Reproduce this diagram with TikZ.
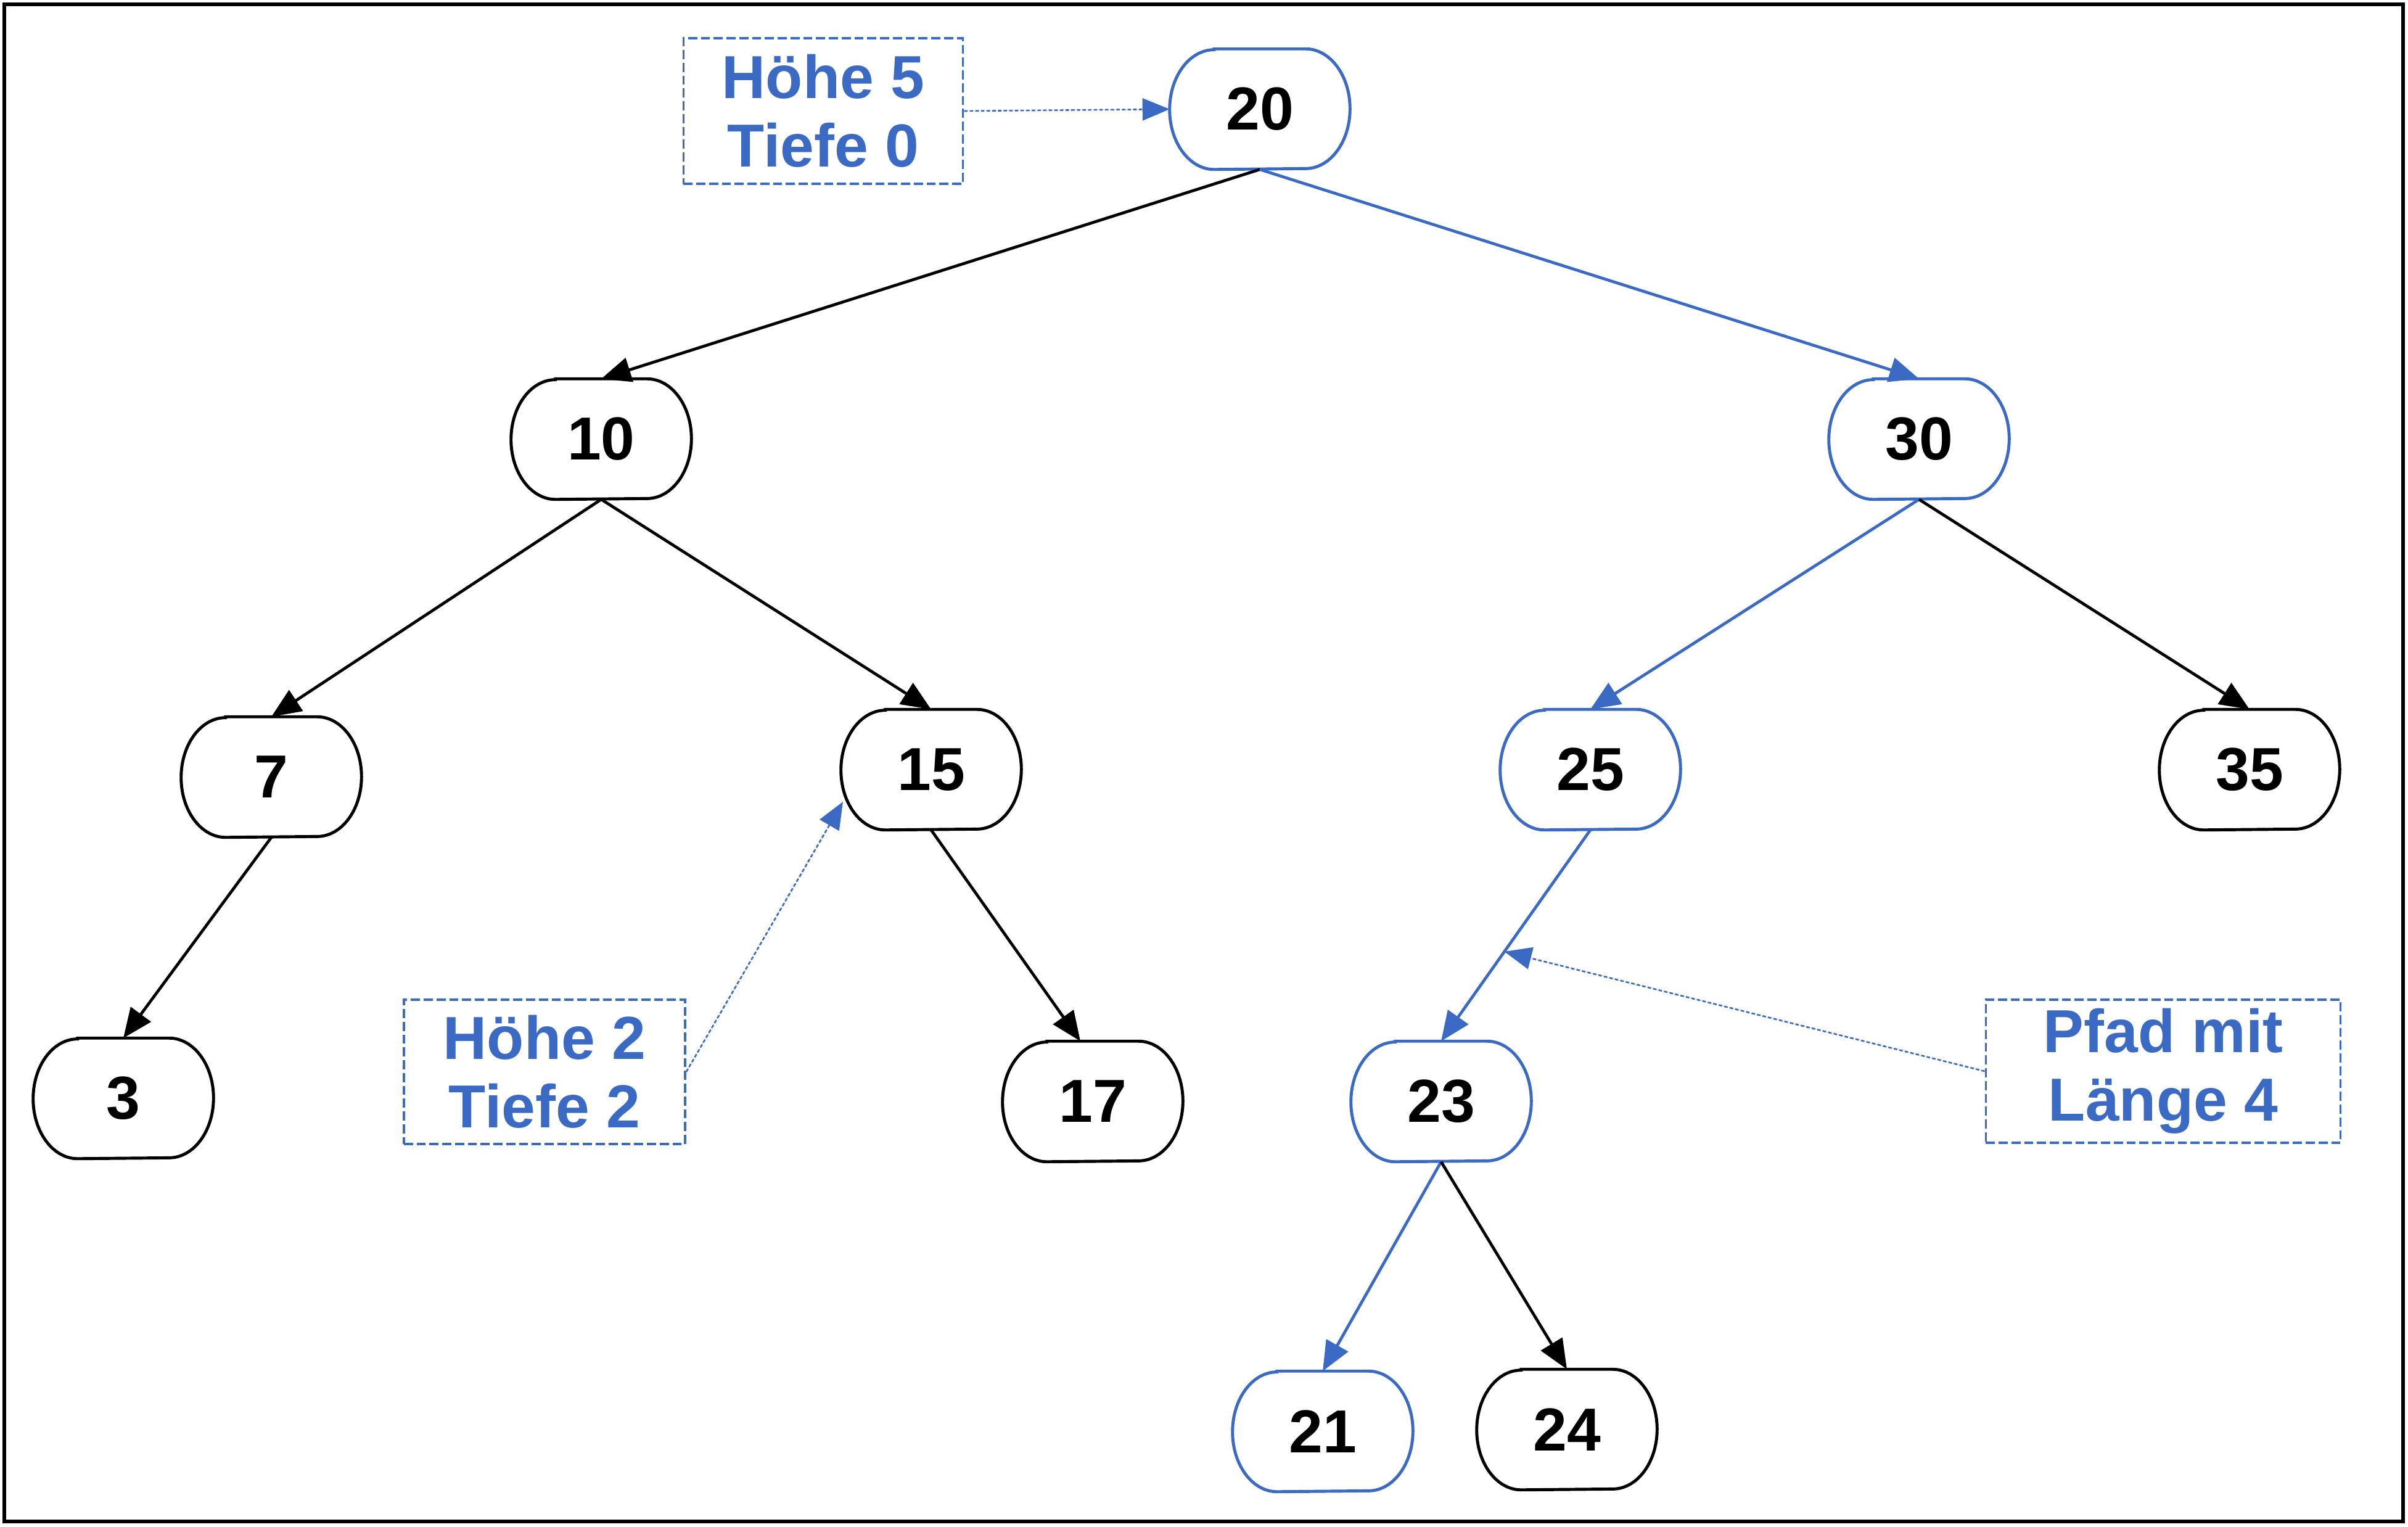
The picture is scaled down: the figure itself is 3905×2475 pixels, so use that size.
\documentclass[tikz,border=0pt]{standalone}
\usepackage{fontspec}
\setmainfont{Liberation Sans}
\usetikzlibrary{arrows.meta,calc}

\definecolor{pathblue}{RGB}{58,106,196}

% outline of a tree node: flat top and bottom, half-elliptic sides
\newcommand{\pilloutline}[2]{%
  \draw[line width=1.4pt, #1]
    ([xshift=0.72cm]#2.north west) -- ([xshift=-0.72cm]#2.north east)
    arc[start angle=90, end angle=-90, x radius=0.72cm, y radius=0.97cm]
    -- ([xshift=0.72cm]#2.south west)
    arc[start angle=270, end angle=90, x radius=0.72cm, y radius=0.97cm]
    -- cycle;}

\tikzset{
  treenode/.style={rectangle, draw=none, minimum width=2.91cm,
    minimum height=1.94cm, inner sep=0pt,
    font=\fontsize{28}{32}\selectfont\bfseries},
  edge/.style={line width=1.35pt, draw=black,
    -{Triangle[length=0.48cm,width=0.40cm]}},
  pathedge/.style={edge, draw=pathblue, fill=pathblue},
  note/.style={rectangle, draw=pathblue, line width=1pt,
    dash pattern=on 4.2pt off 1.7pt, text=pathblue, align=center,
    inner sep=0pt, font=\fontsize{28}{31.6}\selectfont\bfseries},
  notearrow/.style={draw=pathblue, fill=pathblue, line width=0.75pt,
    dash pattern=on 1.6pt off 1pt,
    -{Triangle[length=0.44cm,width=0.36cm]}},
}

\begin{document}
\begin{tikzpicture}[x=0.01cm, y=-0.01cm]
  \useasboundingbox (0,0) rectangle (3905,2475);
  \fill[white] (0,0) rectangle (3905,2475);
  \draw[line width=1.7pt] (7,7) rectangle (3897,2467);

  % tree nodes
  \node[treenode] (n20) at (2043,177)  {20};
  \node[treenode] (n10) at (975,712)   {10};
  \node[treenode] (n30) at (3112,712)  {30};
  \node[treenode] (n7)  at (440,1260)  {7};
  \node[treenode] (n15) at (1510,1248) {15};
  \node[treenode] (n25) at (2579,1248) {25};
  \node[treenode] (n35) at (3648,1248) {35};
  \node[treenode] (n3)  at (200,1781)  {3};
  \node[treenode] (n17) at (1772,1786) {17};
  \node[treenode] (n23) at (2337,1786) {23};
  \node[treenode] (n21) at (2145,2321) {21};
  \node[treenode] (n24) at (2541,2318) {24};

  \pilloutline{pathblue}{n20}
  \pilloutline{black}{n10}
  \pilloutline{pathblue}{n30}
  \pilloutline{black}{n7}
  \pilloutline{black}{n15}
  \pilloutline{pathblue}{n25}
  \pilloutline{black}{n35}
  \pilloutline{black}{n3}
  \pilloutline{black}{n17}
  \pilloutline{pathblue}{n23}
  \pilloutline{pathblue}{n21}
  \pilloutline{black}{n24}

  % tree edges
  \draw[edge]     (n20.south) -- (n10.north);
  \draw[pathedge] (n20.south) -- (n30.north);
  \draw[edge]     (n10.south) -- (n7.north);
  \draw[edge]     (n10.south) -- (n15.north);
  \draw[pathedge] (n30.south) -- (n25.north);
  \draw[edge]     (n30.south) -- (n35.north);
  \draw[edge]     (n7.south)  -- (n3.north);
  \draw[edge]     (n15.south) -- ([xshift=-0.2cm]n17.north);
  \draw[pathedge] (n25.south) -- coordinate[pos=0.576] (pathmid) (n23.north);
  \draw[pathedge] (n23.south) -- (n21.north);
  \draw[edge]     (n23.south) -- (n24.north);

  % annotations
  \node[note, minimum width=4.53cm, minimum height=2.36cm] (hoehe5)
    at (1335,180) {Höhe 5\\Tiefe 0};
  \node[note, minimum width=4.56cm, minimum height=2.34cm] (hoehe2)
    at (883,1738) {Höhe 2\\Tiefe 2};
  \node[note, minimum width=5.75cm, minimum height=2.32cm] (pfad)
    at (3508,1737) {Pfad mit\\Länge 4};

  \coordinate (tip15) at ($(n15.center)+(-143,52)$);

  \draw[notearrow] (hoehe5.east) -- (n20.west);
  \draw[notearrow] (hoehe2.east) -- (tip15);
  \draw[notearrow] (pfad.west) -- (pathmid);
\end{tikzpicture}
\end{document}
